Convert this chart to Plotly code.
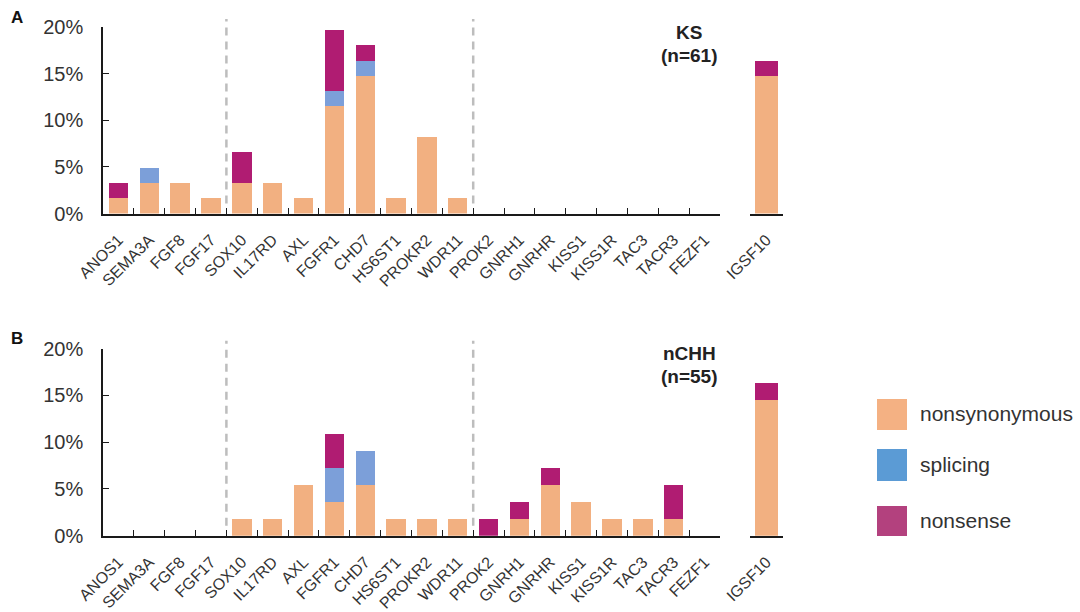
import plotly.graph_objects as go

W, H = 1080, 612

# Genes on the main axis, and the separately plotted gene
genes = ["ANOS1", "SEMA3A", "FGF8", "FGF17", "SOX10", "IL17RD", "AXL", "FGFR1",
         "CHD7", "HS6ST1", "PROKR2", "WDR11", "PROK2", "GNRH1", "GNRHR", "KISS1",
         "KISS1R", "TAC3", "TACR3", "FEZF1"]
extra_gene = ["IGSF10"]

series_names = ["nonsynonymous", "splicing", "nonsense"]
bar_colors = ["#F2B081", "#7C9FD9", "#B01C72"]
legend_colors = ["#F4B183", "#5B9BD5", "#B3417E"]

# KS cohort (n=61), percent of patients
ks_nonsyn = [1.64, 3.28, 3.28, 1.64, 3.28, 3.28, 1.64, 11.48, 14.75, 1.64, 8.20, 1.64,
             0, 0, 0, 0, 0, 0, 0, 0]
ks_splicing = [0, 1.64, 0, 0, 0, 0, 0, 1.64, 1.64, 0, 0, 0,
               0, 0, 0, 0, 0, 0, 0, 0]
ks_nonsense = [1.64, 0, 0, 0, 3.28, 0, 0, 6.56, 1.64, 0, 0, 0,
               0, 0, 0, 0, 0, 0, 0, 0]
ks_igsf10 = [14.75, 0, 1.64]

# nCHH cohort (n=55), percent of patients
nchh_nonsyn = [0, 0, 0, 0, 1.82, 1.82, 5.45, 3.64, 5.45, 1.82, 1.82, 1.82,
               0, 1.82, 5.45, 3.64, 1.82, 1.82, 1.82, 0]
nchh_splicing = [0, 0, 0, 0, 0, 0, 0, 3.64, 3.64, 0, 0, 0,
                 0, 0, 0, 0, 0, 0, 0, 0]
nchh_nonsense = [0, 0, 0, 0, 0, 0, 0, 3.64, 0, 0, 0, 0,
                 1.82, 1.82, 1.82, 0, 0, 0, 3.64, 0]
nchh_igsf10 = [14.55, 0, 1.82]

y_ticks = [0, 5, 10, 15, 20]
tick_text = ["0%", "5%", "10%", "15%", "20%"]

panels = [
    {"letter": "A", "title": "KS", "n": "(n=61)",
     "main": [ks_nonsyn, ks_splicing, ks_nonsense], "extra": ks_igsf10,
     "y0_px": 213.5, "y20_px": 27.0},
    {"letter": "B", "title": "nCHH", "n": "(n=55)",
     "main": [nchh_nonsyn, nchh_splicing, nchh_nonsense], "extra": nchh_igsf10,
     "y0_px": 535.7, "y20_px": 348.7},
]

FONT = "Arial, Liberation Sans, Helvetica, sans-serif"
TXT = "#333333"
AX = "#1a1a1a"

main_dom = [103 / W, 720 / W]
extra_dom = [750 / W, 783 / W]

fig = go.Figure()
layout = dict(
    width=W, height=H,
    margin=dict(l=0, r=0, t=0, b=0, pad=0),
    paper_bgcolor="white", plot_bgcolor="rgba(0,0,0,0)",
    barmode="stack", showlegend=False,
    font=dict(family=FONT, color=TXT),
)
shapes, annotations = [], []

for p_i, p in enumerate(panels):
    ax_main = 2 * p_i + 1
    ax_extra = 2 * p_i + 2
    ydom = [1 - p["y0_px"] / H, 1 - p["y20_px"] / H]

    for s_i, name in enumerate(series_names):
        fig.add_trace(go.Bar(
            x=genes, y=p["main"][s_i], name=name, width=0.63,
            marker=dict(color=bar_colors[s_i], line=dict(width=0)),
            xaxis=f"x{ax_main}" if ax_main > 1 else "x",
            yaxis=f"y{ax_main}" if ax_main > 1 else "y",
        ))
        fig.add_trace(go.Bar(
            x=extra_gene, y=[p["extra"][s_i]], name=name, width=0.67,
            marker=dict(color=bar_colors[s_i], line=dict(width=0)),
            xaxis=f"x{ax_extra}", yaxis=f"y{ax_extra}",
        ))

    xcommon = dict(
        type="category", tickson="boundaries", ticks="inside", ticklen=6,
        tickwidth=1.3, tickcolor=AX, showline=True, linecolor=AX, linewidth=1.6,
        tickangle=-45, tickfont=dict(size=16, color=TXT, family=FONT),
        ticklabelstandoff=9,
        showgrid=False, zeroline=False, fixedrange=True, automargin=False,
    )
    key_m = "xaxis" if ax_main == 1 else f"xaxis{ax_main}"
    layout[key_m] = dict(xcommon, domain=main_dom, range=[-0.5, len(genes) - 0.5],
                         categoryorder="array", categoryarray=genes,
                         anchor="y" if ax_main == 1 else f"y{ax_main}")
    layout[f"xaxis{ax_extra}"] = dict(xcommon, domain=extra_dom, range=[-0.5, 0.5],
                                      anchor=f"y{ax_extra}")

    key_ym = "yaxis" if ax_main == 1 else f"yaxis{ax_main}"
    layout[key_ym] = dict(
        domain=ydom, range=[0, 20], tickvals=y_ticks, ticktext=tick_text,
        ticks="inside", ticklen=6, tickwidth=1.3, tickcolor=AX,
        showline=True, linecolor=AX, linewidth=1.6,
        tickfont=dict(size=20, color=TXT, family=FONT), ticklabelstandoff=14,
        showgrid=False, zeroline=False, fixedrange=True, automargin=False,
        anchor="x" if ax_main == 1 else f"x{ax_main}",
    )
    layout[f"yaxis{ax_extra}"] = dict(
        domain=ydom, range=[0, 20], visible=False, fixedrange=True,
        automargin=False, anchor=f"x{ax_extra}",
    )

    # dashed separators between gene groups
    for bx in (3.5, 11.5):
        shapes.append(dict(
            type="line", xref="x" if ax_main == 1 else f"x{ax_main}", yref="paper",
            x0=bx, x1=bx, y0=1 - (p["y0_px"] - 10) / H, y1=1 - (p["y20_px"] - 8) / H,
            line=dict(color="#BDBDBD", width=2.5, dash="8px,6px"),
        ))

    # panel letter
    annotations.append(dict(
        text=f"<b>{p['letter']}</b>", xref="paper", yref="paper",
        x=9 / W, y=1 - (p["y20_px"] - 10) / H, xanchor="left", yanchor="middle",
        showarrow=False, font=dict(size=17, color="#111111", family=FONT),
    ))
    # cohort label
    annotations.append(dict(
        text=f"<b>{p['title']}</b>", xref="paper", yref="paper",
        x=689 / W, y=1 - (p["y20_px"] + 5) / H, xanchor="center", yanchor="middle",
        showarrow=False, font=dict(size=19, color="#222222", family=FONT),
    ))
    annotations.append(dict(
        text=f"<b>{p['n']}</b>", xref="paper", yref="paper",
        x=689 / W, y=1 - (p["y20_px"] + 28) / H, xanchor="center", yanchor="middle",
        showarrow=False, font=dict(size=19, color="#222222", family=FONT),
    ))

# legend: colour squares with labels
legend_rows_px = [(399, 430), (449, 481), (506, 536)]
for (top, bot), name, col in zip(legend_rows_px, series_names, legend_colors):
    shapes.append(dict(
        type="rect", xref="paper", yref="paper",
        x0=877 / W, x1=907 / W, y0=1 - bot / H, y1=1 - top / H,
        fillcolor=col, line=dict(width=0),
    ))
    annotations.append(dict(
        text=name, xref="paper", yref="paper",
        x=918 / W, y=1 - ((top + bot) / 2 - 1) / H, xanchor="left", yanchor="middle",
        showarrow=False, font=dict(size=21, color=TXT, family=FONT),
    ))

layout["shapes"] = shapes
layout["annotations"] = annotations
fig.update_layout(**layout)

fig.write_html("out.html")
